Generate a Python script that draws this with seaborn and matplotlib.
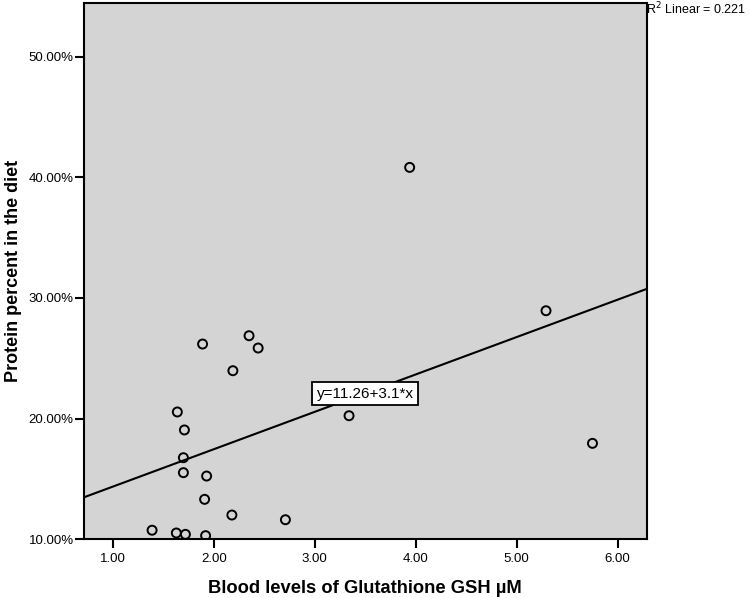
import numpy as np
import pandas as pd
import matplotlib
matplotlib.use("Agg")
import matplotlib.pyplot as plt
from matplotlib.ticker import FuncFormatter
import seaborn as sns

# DATA
gsh = [3.94, 5.29, 3.34, 5.75, 1.89, 2.35, 2.44, 2.19, 1.64, 1.71,
       1.70, 1.70, 1.93, 1.91, 2.18, 2.71, 1.39, 1.63, 1.72, 1.92]
protein = [40.82, 28.94, 20.24, 17.95, 26.18, 26.87, 25.85, 23.97, 20.55, 19.06,
           16.76, 15.52, 15.24, 13.31, 12.01, 11.62, 10.75, 10.52, 10.41, 10.30]
fit_intercept = 11.26
fit_slope = 3.1
r2_text = "R$^2$ Linear = 0.221"
eq_text = "y=11.26+3.1*x"
x_ticks = [1, 2, 3, 4, 5, 6]
y_ticks = [10, 20, 30, 40, 50]

df = pd.DataFrame({"gsh": gsh, "protein": protein})

sns.set_theme(style="white")
plt.rcParams["font.family"] = ["Liberation Sans", "DejaVu Sans"]
plt.rcParams["text.color"] = "black"
plt.rcParams["axes.labelcolor"] = "black"

fig = plt.figure(figsize=(7.5, 5.98), dpi=100)
ax = fig.add_axes([0.112, 0.0982, 0.7503, 0.8973])
ax.set_facecolor("#d4d4d4")

ax.set_xlim(0.716, 6.287)
ax.set_ylim(10, 54.47)

# fit line
ax.axline((0, fit_intercept), slope=fit_slope, color="black", lw=1.5, zorder=2)

sns.scatterplot(data=df, x="gsh", y="protein", ax=ax, marker="o", s=42,
                facecolor="none", edgecolor="black", linewidth=1.4, zorder=3)

ax.text(3.50, 22.06, eq_text, ha="center", va="center", fontsize=11, color="black",
        bbox=dict(boxstyle="square,pad=0.3", fc="white", ec="black", lw=1.3), zorder=4)

fig.text(646 / 750, 1 - 9 / 598, r2_text, ha="left", va="center", fontsize=9,
         color="black")

ax.set_xticks(x_ticks)
ax.set_yticks(y_ticks)
ax.xaxis.set_major_formatter(FuncFormatter(lambda v, p: f"{v:.2f}"))
ax.yaxis.set_major_formatter(FuncFormatter(lambda v, p: f"{v:.2f}%"))
ax.tick_params(axis="both", direction="out", length=6.5, width=1.5, color="black",
               labelsize=9.5, labelcolor="black", bottom=True, left=True)
ax.tick_params(axis="y", pad=1)
ax.tick_params(axis="x", pad=3.5)

for s in ax.spines.values():
    s.set_color("black")
    s.set_linewidth(1.5)
    s.set_visible(True)

ax.set_xlabel("Blood levels of Glutathione GSH µM", fontsize=13.2, fontweight="bold",
              labelpad=11, color="black")
ax.set_ylabel("Protein percent in the diet", fontsize=13, fontweight="bold",
              labelpad=5, color="black")

fig.savefig("out.png", dpi=100)
